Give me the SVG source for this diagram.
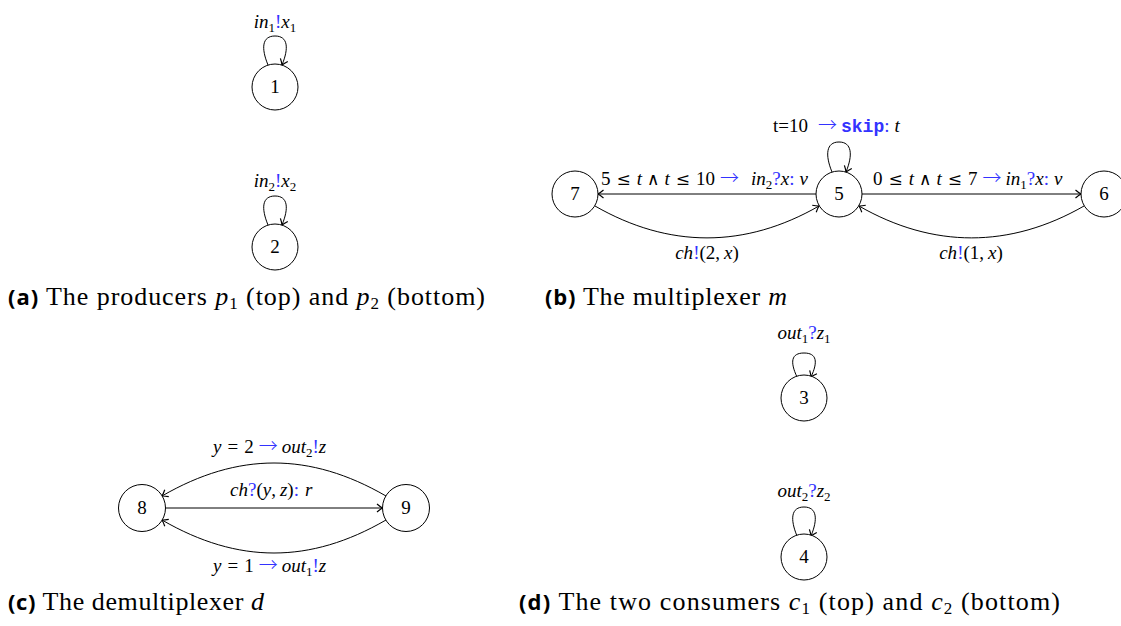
<svg xmlns="http://www.w3.org/2000/svg" width="1121" height="626" viewBox="0 0 1121 626">
<style>
.n{fill:#fff;stroke:#000;stroke-width:1}
.e{fill:none;stroke:#000;stroke-width:1;marker-end:url(#arr)}
.t{font-family:"Liberation Serif","DejaVu Serif",serif;font-size:19px;fill:#000}
.num{font-family:"Liberation Serif","DejaVu Serif",serif;font-size:19px;fill:#000;text-anchor:middle}
.cap{font-family:"Liberation Serif","DejaVu Serif",serif;font-size:26px;fill:#000}
.capb{font-family:"Open Sans","DejaVu Sans",sans-serif;font-weight:bold;font-size:22px}
.i{font-style:italic}
.b{fill:#3333ff}
.s{font-size:13px}
.cs{font-size:17px}
.m{font-family:"DejaVu Serif",serif;font-size:17px}
.ar{font-family:"Noto Sans CJK SC","DejaVu Sans",sans-serif;font-size:19px;font-weight:300}
.mono{font-family:"Liberation Mono","DejaVu Sans Mono",monospace;font-weight:bold;font-size:18px}
</style>
<defs>
<marker id="arr" viewBox="-7 -5 8 10" refX="0" refY="0" markerWidth="8" markerHeight="10" orient="auto" markerUnits="userSpaceOnUse">
<path d="M-5.5,-4 Q-2,-1 0,0 Q-2,1 -5.5,4" fill="none" stroke="#000" stroke-width="1.2"/>
</marker>
</defs>

<g id="connectors">
<path class="e" d="M268,65 C261,48 262,36 275,36 C288,36 289,48 282,65"/>
<path class="e" d="M268,225 C261,208 262,196 275,196 C288,196 289,208 282,225"/>
<path class="e" d="M832,172 C825,155 826,142 839,142 C852,142 853,155 846,172"/>
<line class="e" x1="816" y1="194" x2="598" y2="194"/>
<line class="e" x1="862" y1="194" x2="1081" y2="194"/>
<path class="e" d="M595,206 C669,248.5 745,248.5 819,206"/>
<path class="e" d="M1084,206 C1010,248.5 933,248.5 859,206"/>
<path class="e" d="M797,377 C790,362 791,353 804,353 C817,353 818,362 811,377"/>
<path class="e" d="M797,536 C790,519 791,507 804,507 C817,507 818,519 811,536"/>
<line class="e" x1="165.5" y1="508" x2="382.5" y2="508"/>
<path class="e" d="M386,496 C310,452 238,452 162,496"/>
<path class="e" d="M386,520 C310,564 238,564 162,520"/>
</g>

<g id="labels">
<text class="t" x="275" y="28" text-anchor="middle"><tspan class="i">in</tspan><tspan class="s" dy="4">1</tspan><tspan class="b" dy="-4">!</tspan><tspan class="i">x</tspan><tspan class="s" dy="4">1</tspan></text>
<text class="t" x="275" y="187" text-anchor="middle"><tspan class="i">in</tspan><tspan class="s" dy="4">2</tspan><tspan class="b" dy="-4">!</tspan><tspan class="i">x</tspan><tspan class="s" dy="4">2</tspan></text>
<text class="t" x="773" y="132">t=10<tspan dx="10" class="b ar">→</tspan><tspan dx="4" class="b mono">skip</tspan><tspan class="b">:</tspan><tspan dx="5" class="i">t</tspan></text>
<text class="t" x="601" y="185">5<tspan dx="6" class="m">≤</tspan><tspan dx="6" class="i">t</tspan><tspan dx="5" class="m">∧</tspan><tspan dx="5" class="i">t</tspan><tspan dx="6" class="m">≤</tspan><tspan dx="6">10</tspan><tspan dx="5" class="b ar">→</tspan><tspan dx="12" class="i">in</tspan><tspan class="s" dy="4">2</tspan><tspan class="b" dy="-4">?</tspan><tspan class="i">x</tspan><tspan class="b">:</tspan><tspan dx="5" class="i">v</tspan></text>
<text class="t" x="873" y="185">0<tspan dx="6" class="m">≤</tspan><tspan dx="6" class="i">t</tspan><tspan dx="5" class="m">∧</tspan><tspan dx="5" class="i">t</tspan><tspan dx="6" class="m">≤</tspan><tspan dx="6">7</tspan><tspan dx="5" class="b ar">→</tspan><tspan dx="4" class="i">in</tspan><tspan class="s" dy="4">1</tspan><tspan class="b" dy="-4">?</tspan><tspan class="i">x</tspan><tspan class="b">:</tspan><tspan dx="5" class="i">v</tspan></text>
<text class="t" x="707" y="259" text-anchor="middle"><tspan class="i">ch</tspan><tspan class="b">!</tspan>(2,<tspan dx="4" class="i">x</tspan>)</text>
<text class="t" x="971" y="259" text-anchor="middle"><tspan class="i">ch</tspan><tspan class="b">!</tspan>(1,<tspan dx="4" class="i">x</tspan>)</text>
<text class="t" x="804" y="339" text-anchor="middle"><tspan class="i">out</tspan><tspan class="s" dy="4">1</tspan><tspan class="b" dy="-4">?</tspan><tspan class="i">z</tspan><tspan class="s" dy="4">1</tspan></text>
<text class="t" x="804" y="497" text-anchor="middle"><tspan class="i">out</tspan><tspan class="s" dy="4">2</tspan><tspan class="b" dy="-4">?</tspan><tspan class="i">z</tspan><tspan class="s" dy="4">2</tspan></text>
<text class="t" x="213" y="453"><tspan class="i">y</tspan><tspan dx="6">=</tspan><tspan dx="6">2</tspan><tspan dx="5" class="b ar">→</tspan><tspan dx="4" class="i">out</tspan><tspan class="s" dy="4">2</tspan><tspan class="b" dy="-4">!</tspan><tspan class="i">z</tspan></text>
<text class="t" x="230" y="496"><tspan class="i">ch</tspan><tspan class="b">?</tspan>(<tspan class="i">y</tspan>,<tspan dx="4" class="i">z</tspan>)<tspan class="b">:</tspan><tspan dx="6" class="i">r</tspan></text>
<text class="t" x="213" y="572"><tspan class="i">y</tspan><tspan dx="6">=</tspan><tspan dx="6">1</tspan><tspan dx="5" class="b ar">→</tspan><tspan dx="4" class="i">out</tspan><tspan class="s" dy="4">1</tspan><tspan class="b" dy="-4">!</tspan><tspan class="i">z</tspan></text>
</g>

<g id="node1"><circle class="n" cx="275" cy="87" r="23"/><text class="num" x="275" y="93">1</text></g>
<g id="node2"><circle class="n" cx="275" cy="247" r="23"/><text class="num" x="275" y="253">2</text></g>
<g id="node5"><circle class="n" cx="839" cy="194" r="23"/><text class="num" x="839" y="200">5</text></g>
<g id="node6"><circle class="n" cx="1104" cy="194" r="23"/><text class="num" x="1104" y="200">6</text></g>
<g id="node7"><circle class="n" cx="575" cy="194" r="23"/><text class="num" x="575" y="200">7</text></g>
<g id="node3"><circle class="n" cx="804" cy="398" r="23"/><text class="num" x="804" y="404">3</text></g>
<g id="node4"><circle class="n" cx="804" cy="557" r="23"/><text class="num" x="804" y="563">4</text></g>
<g id="node8"><circle class="n" cx="142" cy="508" r="23.5"/><text class="num" x="142" y="514">8</text></g>
<g id="node9"><circle class="n" cx="406" cy="508" r="23.5"/><text class="num" x="406" y="514">9</text></g>

<g id="captions">
<text class="cap" x="8" y="305" textLength="477" lengthAdjust="spacing"><tspan class="capb">(a)</tspan> The producers <tspan class="i">p</tspan><tspan class="cs" dy="4">1</tspan><tspan dy="-4"> (top) and </tspan><tspan class="i">p</tspan><tspan class="cs" dy="4">2</tspan><tspan dy="-4"> (bottom)</tspan></text>
<text class="cap" x="545" y="305" textLength="242" lengthAdjust="spacing"><tspan class="capb">(b)</tspan> The multiplexer <tspan class="i">m</tspan></text>
<text class="cap" x="8" y="610" textLength="256" lengthAdjust="spacing"><tspan class="capb">(c)</tspan> The demultiplexer <tspan class="i">d</tspan></text>
<text class="cap" x="519" y="610" textLength="541" lengthAdjust="spacing"><tspan class="capb">(d)</tspan> The two consumers <tspan class="i">c</tspan><tspan class="cs" dy="4">1</tspan><tspan dy="-4"> (top) and </tspan><tspan class="i">c</tspan><tspan class="cs" dy="4">2</tspan><tspan dy="-4"> (bottom)</tspan></text>
</g>
</svg>
